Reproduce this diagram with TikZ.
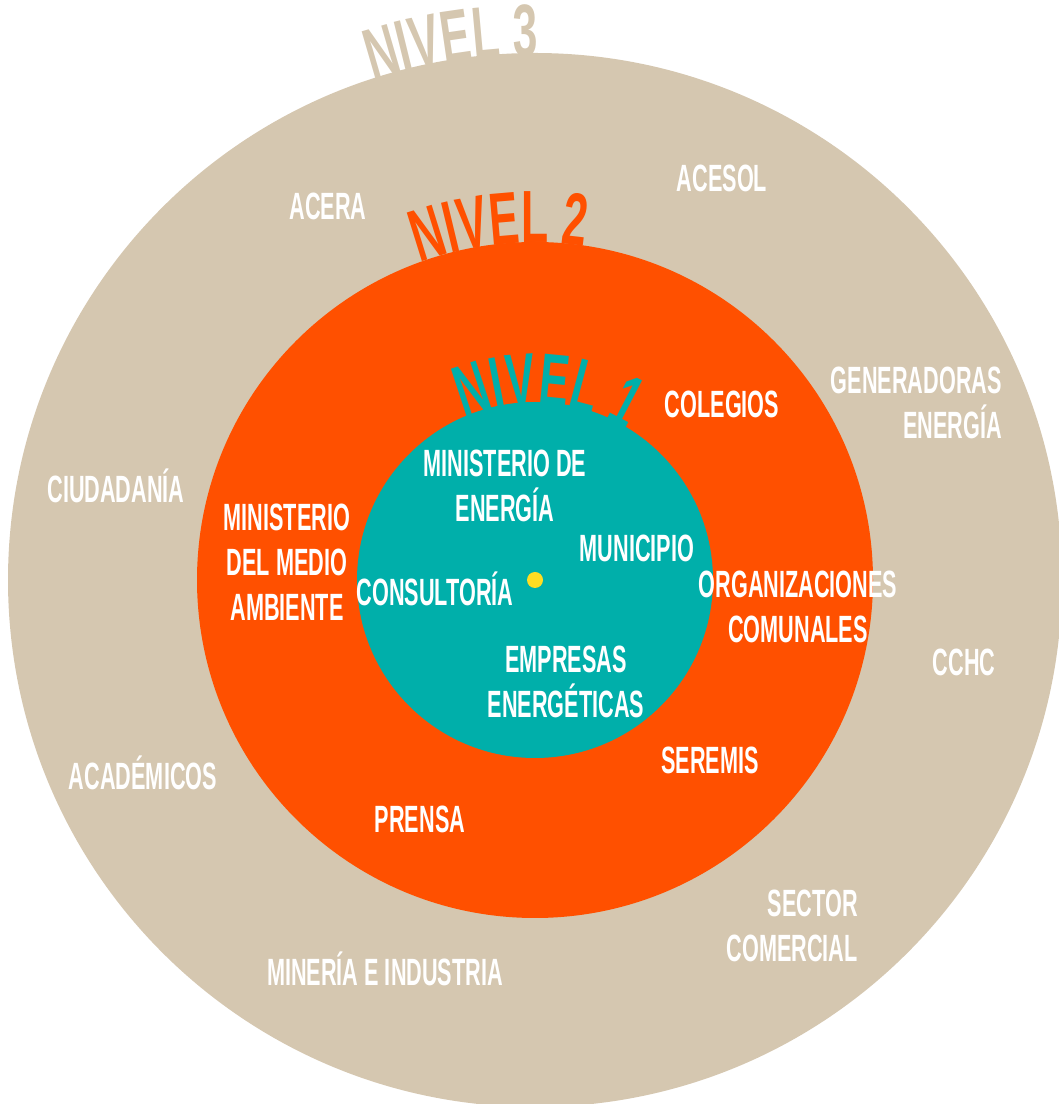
\documentclass[tikz,border=0pt]{standalone}
\usepackage{fontspec}
\usetikzlibrary{decorations.text}
\newfontfamily\labelfont{Liberation Sans}[FakeStretch=0.57]
\newfontfamily\headfont{Liberation Sans}[FakeStretch=0.6]
\definecolor{sand}{HTML}{D5C7B0}
\definecolor{flame}{HTML}{FF5000}
\definecolor{lagoon}{HTML}{00AFAA}
\definecolor{dot}{HTML}{FFDD22}
\newcommand\nivelfont{\headfont\bfseries\fontsize{74}{74}\selectfont}
\tikzset{
  lbl/.style={text=white,inner sep=0pt,align=center,font=\labelfont\bfseries\fontsize{38}{45}\selectfont},
  one/.style={lbl,text height=27pt,text depth=0pt},
  nivel/.style={decorate,decoration={text along path,text align=left,text={#1}}}
}
\begin{document}
\begin{tikzpicture}[x=1pt,y=1pt]
      \useasboundingbox (0,0) rectangle (1059,1104);
      \clip (0,0) rectangle (1059,1104);
      \coordinate (c) at (535,524);
      \fill[sand] (c) circle[radius=527];
      \fill[flame] (c) circle[radius=338];
      \fill[lagoon] (c) circle[radius=178];
      \fill[dot] (c) circle[radius=8];
      \begin{scope}[shift={(c)}]
        \path[nivel={|\nivelfont\color{sand}|NIVEL 3}] (108:524) arc[start angle=108,end angle=60,radius=524];
        \path[nivel={|\nivelfont\color{flame}|NIVEL 2}] (110:337) arc[start angle=110,end angle=40,radius=337];
        \path[nivel={|\nivelfont\color{lagoon}|NIVEL 1}] (113.5:175) arc[start angle=113.5,end angle=20,radius=175];
      \end{scope}
      \node[one] (acesol) at (722,926) {ACESOL};
      \node[one] (acera) at (328,898) {ACERA};
      \node[lbl,align=right,anchor=east] (generadoras) at (1002,701) {GENERADORAS\\ENERGÍA};
      \node[one] (ciudadania) at (116,615) {CIUDADANÍA};
      \node[one] (cchc) at (964,442) {CCHC};
      \node[one] (academicos) at (143,328) {ACADÉMICOS};
      \node[one] (mineria) at (385,132) {MINERÍA E INDUSTRIA};
      \node[lbl,align=right,anchor=east] (comercial) at (858,178) {SECTOR\\COMERCIAL};
      \node[one] (colegios) at (722,700) {COLEGIOS};
      \node[lbl] (medioambiente) at (287,541.5) {MINISTERIO\\DEL MEDIO\\AMBIENTE};
      \node[lbl] (comunales) at (798,497.5) {ORGANIZACIONES\\COMUNALES};
      \node[one] (seremis) at (710,344) {SEREMIS};
      \node[one] (prensa) at (420,285) {PRENSA};
      \node[lbl] (energia) at (505,618.5) {MINISTERIO DE\\ENERGÍA};
      \node[one] (municipio) at (637,556) {MUNICIPIO};
      \node[one] (consultoria) at (435,512) {CONSULTORÍA};
      \node[lbl] (empresas) at (566,422.5) {EMPRESAS\\ENERGÉTICAS};
    \end{tikzpicture}
\end{document}
